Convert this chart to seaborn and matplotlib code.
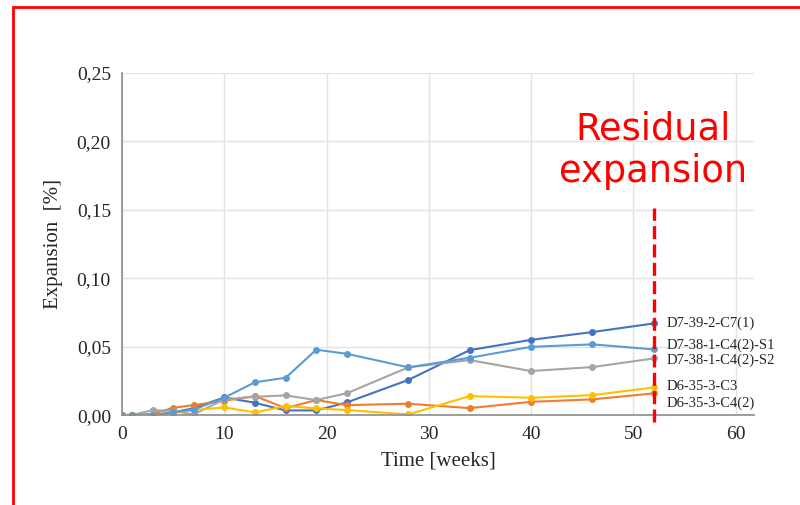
import pandas as pd
import seaborn as sns
import matplotlib.pyplot as plt
from matplotlib.patches import Rectangle
from matplotlib.ticker import FuncFormatter

weeks = [0, 1, 3, 5, 7, 10, 13, 16, 19, 22, 28, 34, 40, 46, 52]

c7_1 = [0, 0, 0, 0.002, 0.005, 0.013, 0.009, 0.0034, 0.0034, 0.0093, 0.0257, 0.0475, 0.055, 0.0607, 0.067]
c4_2 = [0, 0, 0.001, 0.0053, 0.0073, 0.0105, 0.0139, 0.0051, 0.011, 0.0073, 0.0083, 0.0051, 0.0097, 0.0115, 0.0159]
s2 = [0, 0, 0.0037, 0.003, 0.0005, 0.0115, 0.0134, 0.0144, 0.011, 0.016, 0.0349, 0.0402, 0.0322, 0.0351, 0.0414]
c3 = [0, 0, 0, 0.0017, 0.0037, 0.0056, 0.002, 0.0066, 0.0049, 0.0037, 0.0005, 0.0139, 0.0127, 0.0146, 0.0202]
s1 = [0, 0, 0, 0.002, 0.004, 0.0127, 0.024, 0.0273, 0.0478, 0.0448, 0.0349, 0.0419, 0.0499, 0.0517, 0.048]

names = ["D7-39-2-C7(1)", "D6-35-3-C4(2)", "D7-38-1-C4(2)-S2", "D6-35-3-C3", "D7-38-1-C4(2)-S1"]
colors = ["#4472C4", "#ED7D31", "#A5A5A5", "#FFC000", "#5B9BD5"]
label_y = [0.0673, 0.0088, 0.0402, 0.0212, 0.0512]

df = pd.DataFrame({"week": weeks})
for name, vals in zip(names, [c7_1, c4_2, s2, c3, s1]):
    df[name] = vals
long = df.melt(id_vars="week", var_name="sample", value_name="expansion")

sns.set_style("white")
plt.rcParams["font.family"] = ["Liberation Serif", "DejaVu Serif"]

fig = plt.figure(figsize=(8, 5.05), dpi=100)
ax = fig.add_axes([0.1525, 0.178, 0.79, 0.6774])

sns.lineplot(data=long, x="week", y="expansion", hue="sample", hue_order=names,
             palette=colors, marker="o", markersize=5, markeredgewidth=0,
             linewidth=1.5, legend=False, ax=ax)

ax.set_xlim(0, 61.8)
ax.set_ylim(0, 0.25)
ax.set_xticks(range(0, 61, 10))
ax.set_yticks([0, 0.05, 0.10, 0.15, 0.20, 0.25])
ax.yaxis.set_major_formatter(FuncFormatter(lambda v, p: f"{v:.2f}".replace(".", ",")))
ax.grid(True, color="#e3e3e3", linewidth=1)
ax.set_axisbelow(True)
for side in ["top", "right"]:
    ax.spines[side].set_visible(False)
for side in ["left", "bottom"]:
    ax.spines[side].set_color("#8c8c8c")
    ax.spines[side].set_linewidth(1.2)
ax.tick_params(length=0, labelsize=14, pad=8)
ax.set_xlabel("Time [weeks]", fontsize=15, labelpad=6)
ax.set_ylabel("Expansion  [%]", fontsize=15, labelpad=10)

for name, yv in zip(names, label_y):
    ax.text(53.3, yv, name, fontsize=10.5, va="center", ha="left")

# residual expansion marker at 52 weeks
ax.plot([52, 52], [-0.005, 0.151], color="#ff0000", linewidth=2.4,
        linestyle=(0, (3.9, 1.6)), clip_on=False, zorder=5)
ax.text(51.9, 0.1937, "Residual\nexpansion", color="#ff0000", fontsize=26.5,
        family="DejaVu Sans", ha="center", va="center", linespacing=1.2)

fig.patches.append(Rectangle((13 / 800, -0.1), 1.2, 1.1 - 7 / 505, transform=fig.transFigure,
                             fill=False, edgecolor="#ff0000", linewidth=2))

fig.savefig("out.png", dpi=100)
